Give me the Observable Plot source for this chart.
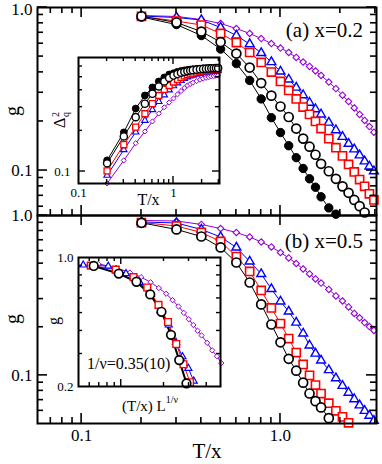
<!DOCTYPE html>
<html><head><meta charset="utf-8">
<script src="https://cdn.jsdelivr.net/npm/d3@7"></script>
<script src="https://cdn.jsdelivr.net/npm/@observablehq/plot@0.6"></script>
<style>
html,body{margin:0;padding:0;background:#fff;}
#fig{position:relative;width:382px;height:464px;overflow:hidden;background:#fff;}
#fig svg{position:absolute;}
</style></head><body><div id="fig"></div>
<script>
// ---------- data ----------
const tGrid = [0.2,0.3,0.4,0.5,0.6,0.7,0.8,0.9,1.0,1.1,1.2,1.3,1.4,1.5,1.6,1.75,1.9,2.05,2.2,2.35,2.5,2.65,2.8,2.95];

// panel (a) x=0.2 : g vs T/x
const gA_filled = [0.874,0.786,0.673,0.556,0.453,0.357,0.275,0.211,0.171,0.142,0.120,0.103,0.089,0.079,0.069,0.059,0.054];
const gA_open   = [0.884,0.809,0.712,0.614,0.522,0.428,0.344,0.288,0.247,0.213,0.181,0.157,0.140,0.125,0.110,0.099,0.089,0.080,0.073,0.066,0.0605,0.0553];
const gA_red    = [0.881,0.826,0.781,0.693,0.610,0.530,0.460,0.402,0.352,0.310,0.275,0.245,0.221,0.200,0.181,0.157,0.138,0.123,0.109,0.098,0.088,0.080,0.072,0.066];
const gA_blue   = [0.887,0.868,0.838,0.754,0.673,0.597,0.526,0.463,0.405,0.362,0.323,0.290,0.261,0.238,0.221,0.197,0.177,0.161,0.146,0.135,0.124,0.114,0.106,0.099];
const gA_purple = [0.893,0.881,0.844,0.798,0.743,0.693,0.645,0.601,0.564,0.530,0.494,0.463,0.435,0.408,0.383,0.349,0.318,0.290,0.265,0.242,0.221,0.203,0.186,0.172];

// panel (b) x=0.5
const gB_open   = [0.900,0.818,0.739,0.631,0.508,0.381,0.278,0.208,0.161,0.127,0.107,0.090,0.077,0.069,0.063,0.054];
const gB_red    = [0.904,0.860,0.783,0.688,0.554,0.447,0.340,0.264,0.211,0.170,0.139,0.117,0.100,0.087,0.077,0.067,0.060,0.055,0.0505];
const gB_blue   = [0.911,0.898,0.818,0.734,0.631,0.516,0.431,0.347,0.290,0.251,0.214,0.183,0.154,0.137,0.124,0.108,0.096,0.086,0.078,0.071,0.065,0.060,0.056,0.052];
const gB_purple = [0.931,0.924,0.879,0.829,0.783,0.734,0.683,0.636,0.587,0.543,0.501,0.463,0.431,0.401,0.378,0.345,0.314,0.292,0.268,0.244,0.229,0.214,0.202,0.191];

// inset (a): Delta_q^2 vs T/x
const dA_filled = [0.121,0.195,0.293,0.366,0.420,0.465,0.498,0.524,0.535,0.548,0.556,0.562,0.566,0.570,0.573,0.576,0.579,0.581,0.583,0.584,0.585,0.586,0.587,0.588];
const dA_open   = [0.115,0.182,0.253,0.318,0.377,0.427,0.465,0.494,0.515,0.528,0.540,0.548,0.555,0.560,0.564,0.569,0.573,0.576,0.578,0.580,0.582,0.583,0.584,0.585];
const dA_red    = [0.101,0.158,0.213,0.268,0.319,0.366,0.406,0.434,0.461,0.481,0.498,0.511,0.522,0.530,0.537,0.546,0.553,0.558,0.563,0.567,0.570,0.573,0.575,0.577];
const dA_blue   = [0.0935,0.145,0.196,0.239,0.287,0.330,0.369,0.402,0.431,0.453,0.473,0.489,0.502,0.510,0.517,0.526,0.533,0.539,0.544,0.548,0.551,0.554,0.556,0.558];
const dA_purple = [0.0816,0.121,0.162,0.198,0.235,0.269,0.299,0.325,0.348,0.373,0.395,0.416,0.434,0.445,0.455,0.468,0.479,0.488,0.495,0.501,0.506,0.510,0.513,0.516];

// inset (b): scaled abscissa (T/x) L^{1/nu}
const xS_black  = [0.64,0.96,1.28,1.60,1.92,2.24,2.56,2.88];
const xS_red    = [0.61,0.915,1.22,1.525,1.83,2.135,2.44,2.745,3.05];
const xS_blue   = [0.54,0.81,1.08,1.35,1.62,1.89,2.16,2.43,2.70,2.97,3.24];
const xS_purple = [0.69,0.92,1.15,1.38,1.61,1.84,2.07,2.30,2.53,2.76,2.99,3.22,3.45,3.68,4.03,4.37,4.72,5.06];

// ticks
const mainXMaj = [0.1, 1], mainXMin = [0.07,0.08,0.09,0.2,0.3,0.4,0.5,0.6,0.7,0.8,0.9,2,3];
const mainYMaj = [0.1, 1], mainYMin = [0.06,0.07,0.08,0.09,0.2,0.3,0.4,0.5,0.6,0.7,0.8,0.9];
const inAXMaj = [1], inAXMin = [0.2,0.3,0.4,0.5,0.6,0.7,0.8,0.9,2,3];
const inAYMaj = [0.1], inAYMin = [0.2,0.3,0.4,0.5,0.6];
const inBXMaj = [1], inBXMin = [0.6,0.7,0.8,0.9,2,3,4];
const inBYMaj = [], inBYMin = [0.3,0.4,0.5,0.6,0.7,0.8,0.9];

// ---------- helpers ----------
const font = "'Liberation Serif','Times New Roman',serif";
const RED = "#ff0000", BLUE = "#0000ff", PURPLE = "#9400d3";
const root = document.getElementById("fig");

function rows(ys, xs = tGrid) {
  return ys.map((v, i) => ({x: xs[i], y: v}));
}
function seriesMarks(list) {
  const m = [];
  for (const s of list) m.push(Plot.line(s.data, {x: "x", y: "y", stroke: s.color, strokeWidth: s.lw ?? 1}));
  for (const s of list) m.push(Plot.dot(s.data, {x: "x", y: "y", symbol: s.symbol, r: s.r, stroke: s.color, fill: s.fill, strokeWidth: s.sw}));
  return m;
}
// inward ticks, positioned through the plot's own x / y scales
function drawTicks(svg, spec, lMaj, lMin, sw) {
  const sx = svg.scale("x"), sy = svg.scale("y");
  const [xl, xr] = sx.range, [yb, yt] = sy.range;
  const g = d3.select(svg).append("g").attr("stroke", "black").attr("stroke-width", sw);
  for (const [side, maj, min] of spec) {
    for (const [vals, L] of [[maj, lMaj], [min, lMin]]) {
      for (const v of vals) {
        if (side === "bottom" || side === "top") {
          const x = sx.apply(v), y = side === "bottom" ? yb : yt, d = side === "bottom" ? -L : L;
          g.append("line").attr("x1", x).attr("x2", x).attr("y1", y).attr("y2", y + d);
        } else {
          const y = sy.apply(v), x = side === "left" ? xl : xr, d = side === "left" ? L : -L;
          g.append("line").attr("x1", x).attr("x2", x + d).attr("y1", y).attr("y2", y);
        }
      }
    }
  }
}
function place(svg, left, top) {
  svg.style.left = left + "px"; svg.style.top = top + "px";
  root.appendChild(svg); return svg;
}
function addText(svg, x, y, parts, {size, anchor = "middle", rotate = 0}) {
  const t = d3.select(svg).append("text")
    .attr("transform", `translate(${x},${y})` + (rotate ? ` rotate(${rotate})` : ""))
    .attr("text-anchor", anchor).attr("font-family", font).attr("font-size", size).attr("fill", "black");
  for (const p of parts) {
    const s = t.append("tspan").text(p.t);
    if (p.dx != null) s.attr("dx", p.dx);
    if (p.dy != null) s.attr("dy", p.dy);
    if (p.size) s.attr("font-size", p.size);
  }
}
const fmt1 = d => d.toFixed(1);

// ---------- main panels ----------
const mainStyle = {background: "transparent", overflow: "visible", fontFamily: font};
const xMain = {type: "log", domain: [0.06, 3.04], axis: null};

const seriesA = [
  {data: rows(gA_purple), color: PURPLE, symbol: "diamond2", r: 2.9, fill: "white", sw: 1.1},
  {data: rows(gA_blue), color: BLUE, symbol: "triangle", r: 3.3, fill: "white", sw: 1.4},
  {data: rows(gA_red), color: RED, symbol: "square", r: 4.6, fill: "white", sw: 1.6},
  {data: rows(gA_filled), color: "black", symbol: "circle", r: 4.2, fill: "black", sw: 1},
  {data: rows(gA_open), color: "black", symbol: "circle", r: 4.5, fill: "white", sw: 1.7}
];
const plotA = Plot.plot({
  width: 382, height: 216, marginLeft: 37, marginRight: 6, marginTop: 7, marginBottom: 1,
  style: mainStyle, x: xMain, y: {type: "log", domain: [0.053, 1], axis: null},
  marks: [
    ...seriesMarks(seriesA),
    Plot.axisY([0.1], {anchor: "left", tickSize: 0, tickPadding: 5, tickFormat: fmt1, fontSize: 17, fontFamily: font, label: null}),
    Plot.axisY([1], {anchor: "left", tickSize: 0, tickPadding: 5, dy: 2, tickFormat: fmt1, fontSize: 17, fontFamily: font, label: null}),
    Plot.frame({stroke: "black", strokeWidth: 2})
  ]
});
place(plotA, 0, 0);
drawTicks(plotA, [["top", mainXMaj, mainXMin], ["bottom", mainXMaj, mainXMin], ["left", mainYMaj, mainYMin], ["right", mainYMaj, mainYMin]], 10, 6, 1.6);
addText(plotA, 18.5, 111, [{t: "g"}], {size: 20, rotate: -90});
addText(plotA, 363, 37, [{t: "(a) x=0.2"}], {size: 21, anchor: "end"});

const seriesB = [
  {data: rows(gB_purple), color: PURPLE, symbol: "diamond2", r: 2.9, fill: "white", sw: 1.1},
  {data: rows(gB_blue), color: BLUE, symbol: "triangle", r: 3.3, fill: "white", sw: 1.4},
  {data: rows(gB_red), color: RED, symbol: "square", r: 4.6, fill: "white", sw: 1.6},
  {data: rows(gB_open), color: "black", symbol: "circle", r: 4.5, fill: "white", sw: 1.7}
];
const plotB = Plot.plot({
  width: 382, height: 464, marginLeft: 37, marginRight: 6, marginTop: 215, marginBottom: 41,
  style: mainStyle, x: xMain, y: {type: "log", domain: [0.05, 1], axis: null},
  marks: [
    ...seriesMarks(seriesB),
    Plot.axisY([0.1, 1], {anchor: "left", tickSize: 0, tickPadding: 5, tickFormat: fmt1, fontSize: 17, fontFamily: font, label: null}),
    Plot.axisX([0.1, 1], {anchor: "bottom", tickSize: 0, tickPadding: 5, tickFormat: fmt1, fontSize: 17, fontFamily: font, label: null}),
    Plot.frame({stroke: "black", strokeWidth: 2})
  ]
});
place(plotB, 0, 0);
drawTicks(plotB, [["top", mainXMaj, []], ["bottom", mainXMaj, mainXMin], ["left", mainYMaj, mainYMin], ["right", mainYMaj, mainYMin]], 10, 6, 1.6);
addText(plotB, 18.5, 319, [{t: "g"}], {size: 20, rotate: -90});
addText(plotB, 363, 248, [{t: "(b) x=0.5"}], {size: 21, anchor: "end"});
addText(plotB, 207, 458, [{t: "T/x"}], {size: 21});

// ---------- inset (a) ----------
const inA = {left: 40, top: 45, ml: 38, mt: 12, w: 184, h: 163, mr: 5, mb: 25};
const seriesIA = [
  {data: rows(dA_purple), color: PURPLE, symbol: "diamond2", r: 2.3, fill: "white", sw: 1},
  {data: rows(dA_blue), color: BLUE, symbol: "triangle", r: 2.4, fill: "white", sw: 1.1},
  {data: rows(dA_red), color: RED, symbol: "square", r: 3.4, fill: "white", sw: 1.3},
  {data: rows(dA_filled), color: "black", symbol: "circle", r: 3.4, fill: "black", sw: 1},
  {data: rows(dA_open), color: "black", symbol: "circle", r: 3.6, fill: "white", sw: 1.4}
];
const plotIA = Plot.plot({
  width: inA.w, height: inA.h, marginLeft: inA.ml, marginRight: inA.mr, marginTop: inA.mt, marginBottom: inA.mb,
  style: mainStyle, x: {type: "log", domain: [0.1, 3.05], axis: null}, y: {type: "log", domain: [0.0815, 0.7], axis: null},
  marks: [
    Plot.frame({fill: "white", stroke: "none"}),
    ...seriesMarks(seriesIA),
    Plot.axisY([0.1, 0.7], {anchor: "left", tickSize: 0, tickPadding: 8, tickFormat: fmt1, fontSize: 13, fontFamily: font, label: null}),
    Plot.axisX([0.1, 1], {anchor: "bottom", tickSize: 0, tickPadding: 4, tickFormat: d => d === 1 ? "1" : "0.1", fontSize: 13, fontFamily: font, label: null}),
    Plot.frame({stroke: "black", strokeWidth: 2})
  ]
});
place(plotIA, inA.left, inA.top);
drawTicks(plotIA, [["top", inAXMaj, inAXMin], ["bottom", inAXMaj, inAXMin], ["left", inAYMaj, inAYMin], ["right", inAYMaj, inAYMin]], 7, 4, 1.4);
addText(plotIA, 25, 75, [{t: "Δ"}, {t: "q", size: 10, dy: 4, dx: 0.5}, {t: "2", size: 10, dx: -5, dy: -10}], {size: 16, rotate: -90});
addText(plotIA, 108.5, 160, [{t: "T/x"}], {size: 16});

// ---------- inset (b) ----------
const inB = {left: 40, top: 245, ml: 38, mt: 12, w: 192, h: 175, mr: 12, mb: 34};
const seriesIB = [
  {data: rows(gB_purple.slice(1, 19), xS_purple), color: PURPLE, symbol: "diamond2", r: 2.4, fill: "white", sw: 1},
  {data: rows(gB_blue.slice(0, 11), xS_blue), color: BLUE, symbol: "triangle", r: 2.6, fill: "white", sw: 1.2},
  {data: rows(gB_red.slice(0, 9), xS_red), color: RED, symbol: "square", r: 3.8, fill: "white", sw: 1.4},
  {data: rows(gB_open.slice(0, 8), xS_black), color: "black", symbol: "circle", r: 4.3, fill: "white", sw: 1.7, lw: 2}
];
const plotIB = Plot.plot({
  width: inB.w, height: inB.h, marginLeft: inB.ml, marginRight: inB.mr, marginTop: inB.mt, marginBottom: inB.mb,
  style: mainStyle, x: {type: "log", domain: [0.5, 5], axis: null}, y: {type: "log", domain: [0.2, 1], axis: null},
  marks: [
    Plot.frame({fill: "white", stroke: "none"}),
    ...seriesMarks(seriesIB),
    Plot.axisY([0.2, 1], {anchor: "left", tickSize: 0, tickPadding: 5, tickFormat: fmt1, fontSize: 13, fontFamily: font, label: null}),
    Plot.axisX([0.5, 5], {anchor: "bottom", tickSize: 0, tickPadding: 3, tickFormat: fmt1, fontSize: 13, fontFamily: font, label: null}),
    Plot.frame({stroke: "black", strokeWidth: 2})
  ]
});
place(plotIB, inB.left, inB.top);
drawTicks(plotIB, [["top", inBXMaj, inBXMin], ["bottom", inBXMaj, inBXMin], ["left", inBYMaj, inBYMin], ["right", inBYMaj, inBYMin]], 7, 4, 1.4);
addText(plotIB, 19, 76, [{t: "g"}], {size: 16, rotate: -90});
addText(plotIB, 47, 124, [{t: "1/ν=0.35(10)"}], {size: 16, anchor: "start"});
addText(plotIB, 110, 166, [{t: "(T/x) L"}, {t: "1/ν", size: 10, dy: -8}], {size: 15});
</script></body></html>
